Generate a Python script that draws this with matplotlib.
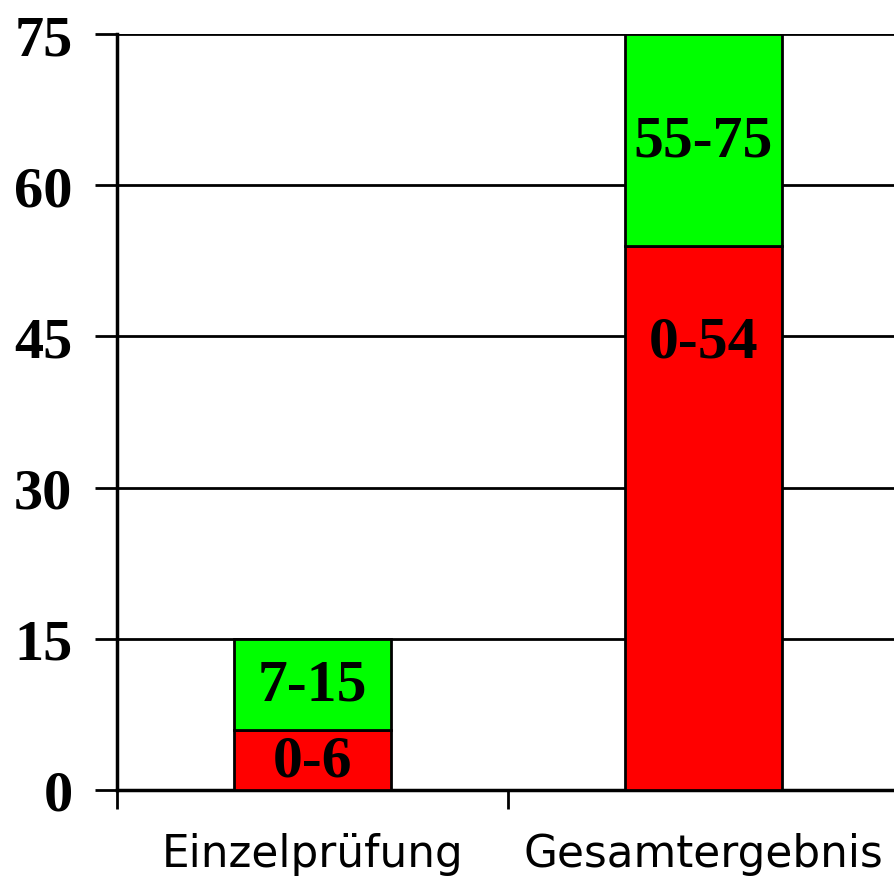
import matplotlib
matplotlib.use("Agg")
import matplotlib.pyplot as plt

categories = ["Einzelprüfung", "Gesamtergebnis"]
red_values = [6, 54]
green_values = [9, 21]
red_labels = ["0-6", "0-54"]
green_labels = ["7-15", "55-75"]
red_label_y = [2.8, 44.4]
green_label_y = [10.4, 64.3]
yticks = [0, 15, 30, 45, 60, 75]

fig = plt.figure(figsize=(8.94, 8.79), dpi=100)
ax = fig.add_axes([117/894, 88/879, 782/894, 756/879])

x = list(range(len(categories)))
ax.bar(x, red_values, width=0.4, color="#FF0000", edgecolor="black", linewidth=2, zorder=3)
ax.bar(x, green_values, bottom=red_values, width=0.4, color="#00FF00", edgecolor="black", linewidth=2, zorder=3)

for i in x:
    ax.text(i, red_label_y[i], red_labels[i], ha="center", va="center",
            fontsize=43, fontweight="bold", family="Liberation Serif", zorder=4)
    ax.text(i, green_label_y[i], green_labels[i], ha="center", va="center",
            fontsize=43, fontweight="bold", family="Liberation Serif", zorder=4)

ax.set_xlim(-0.5, 1.5)
ax.set_ylim(0, 75)
ax.set_yticks(yticks)
ax.set_yticklabels([str(v) for v in yticks], fontsize=42, fontweight="bold", family="Liberation Serif")
ax.yaxis.grid(True, color="black", linewidth=2, zorder=0)
ax.set_axisbelow(True)

ax.set_xticks([-0.5, 0.5, 1.5])
ax.set_xticklabels([])
ax.set_xticks(x, minor=True)
ax.set_xticklabels(categories, minor=True, fontsize=31.5, family="DejaVu Sans")
ax.tick_params(axis="x", which="minor", length=0, pad=30)
ax.tick_params(axis="x", which="major", length=14, width=2, direction="out")
ax.tick_params(axis="y", length=16, width=2, direction="out", pad=16)

for s in ["top", "right"]:
    ax.spines[s].set_visible(False)
for s in ["left", "bottom"]:
    ax.spines[s].set_linewidth(2.5)

fig.savefig("out.png", dpi=100)
